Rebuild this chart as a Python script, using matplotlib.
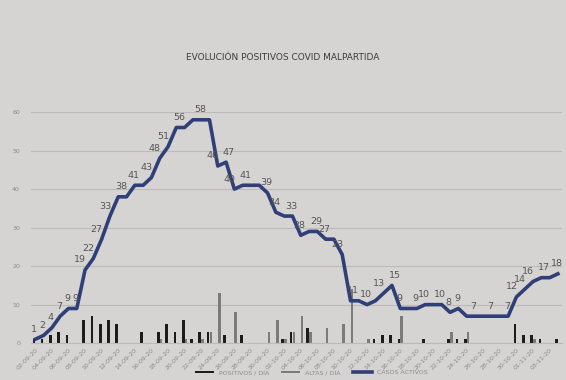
import numpy as np
import matplotlib.pyplot as plt
from datetime import date, timedelta

# casos activos per day
activos = [1, 2, 4, 7, 9, 9, 19, 22, 27, 33, 38, 38, 41, 41, 43, 48, 51, 56, 56, 58,
           58, 58, 46, 47, 40, 41, 41, 41, 39, 34, 33, 33, 28, 29, 29, 27, 27, 23, 11, 11,
           10, 11, 13, 15, 9, 9, 9, 10, 10, 10, 8, 9, 7, 7, 7, 7, 7, 7, 12, 14,
           16, 17, 17, 18]

# points that carry a data label in the original
label_idx = [0, 1, 2, 3, 4, 5, 6, 7, 8, 9, 10, 12, 14, 15, 16, 17, 20, 22, 23, 24,
             25, 28, 29, 31, 32, 34, 35, 37, 38, 40, 42, 43, 44, 46, 47, 49, 50, 51, 53, 55,
             57, 58, 59, 60, 61, 63]

# positivos / dia and altas / dia (index -> value, rest zero)
positivos_pts = {0: 1, 1: 1, 2: 2, 3: 3, 4: 2, 6: 6, 7: 7, 8: 5, 9: 6, 10: 5, 13: 3,
                 15: 3, 16: 5, 17: 3, 18: 6, 19: 1, 20: 3, 21: 3, 23: 2, 25: 2, 30: 1,
                 31: 3, 33: 4, 41: 1, 42: 2, 43: 2, 44: 1, 47: 1, 50: 1, 51: 1, 52: 1,
                 58: 5, 59: 2, 60: 2, 61: 1, 63: 1}
altas_pts = {15: 1, 18: 1, 20: 1, 21: 3, 22: 13, 24: 8, 28: 3, 29: 6, 30: 1, 31: 3,
             32: 7, 33: 3, 35: 4, 37: 5, 38: 14, 40: 1, 44: 7, 50: 3, 52: 3, 60: 1}

n = len(activos)
start = date(2020, 9, 2)
fechas = [(start + timedelta(days=i)).strftime('%d-%m-%y') for i in range(n)]
positivos = np.array([positivos_pts.get(i, 0) for i in range(n)])
altas = np.array([altas_pts.get(i, 0) for i in range(n)])

bg = '#d6d4d3'
fig = plt.figure(figsize=(5.66, 3.8), dpi=100, facecolor=bg)
ax = fig.add_axes([0.055, 0.097, 0.938, 0.608], facecolor=bg)

x = np.arange(n)
b1 = ax.bar(x - 0.17, positivos, width=0.32, color='#1c1c1c', zorder=2)
b2 = ax.bar(x + 0.17, altas, width=0.32, color='#7b7b7b', zorder=2)
l1, = ax.plot(x, activos, color='#2f3f78', lw=2.6, zorder=3)

#data labels; a few neighbours get pushed left/right so they don't sit on each other
push_left = [6, 7, 8, 9, 14, 15, 16, 22, 24, 37, 42, 58, 59, 60]
push_right = [10, 17, 23, 25, 38, 43, 61]
for i in label_idx:
    dx = -1
    if i in push_left:
        dx = -3.5
    elif i in push_right:
        dx = 2
    ax.annotate(str(activos[i]), (x[i], activos[i]), xytext=(dx, 4), textcoords='offset points',
                ha='center', va='bottom', fontsize=6.8, color='#555555', zorder=4)

ax.set_xlim(-0.5, n - 0.5)
ax.set_ylim(0, 60)
ax.set_yticks(np.arange(0, 61, 10))
ax.grid(axis='y', color='#bdbbba', lw=0.8, zorder=0)
ax.set_xticks(x[::2])
ax.set_xticklabels(fechas[::2], rotation=45, ha='right', rotation_mode='anchor',
                   fontsize=4.5, color='#8a8a8a')
ax.tick_params(axis='y', labelsize=4.5, labelcolor='#8a8a8a', length=0, pad=8)
ax.tick_params(axis='x', length=0, pad=3)
for s in ['top', 'right', 'left']:
    ax.spines[s].set_visible(False)
ax.spines['bottom'].set_color('#bdbbba')

fig.text(0.5, 0.848, 'EVOLUCIÓN POSITIVOS COVID MALPARTIDA', ha='center', va='center',
         fontsize=6.5, color='#3d3d3d')

fig.legend([b1, b2, l1], ['POSITIVOS / DÍA', 'ALTAS / DÍA', 'CASOS ACTIVOS'],
           loc='center', bbox_to_anchor=(0.55, 0.02), ncol=3, frameon=False,
           fontsize=4.5, handlelength=3, handleheight=0.3, labelcolor='#8a8a8a')

fig.savefig('out.png', dpi=100, facecolor=bg)
